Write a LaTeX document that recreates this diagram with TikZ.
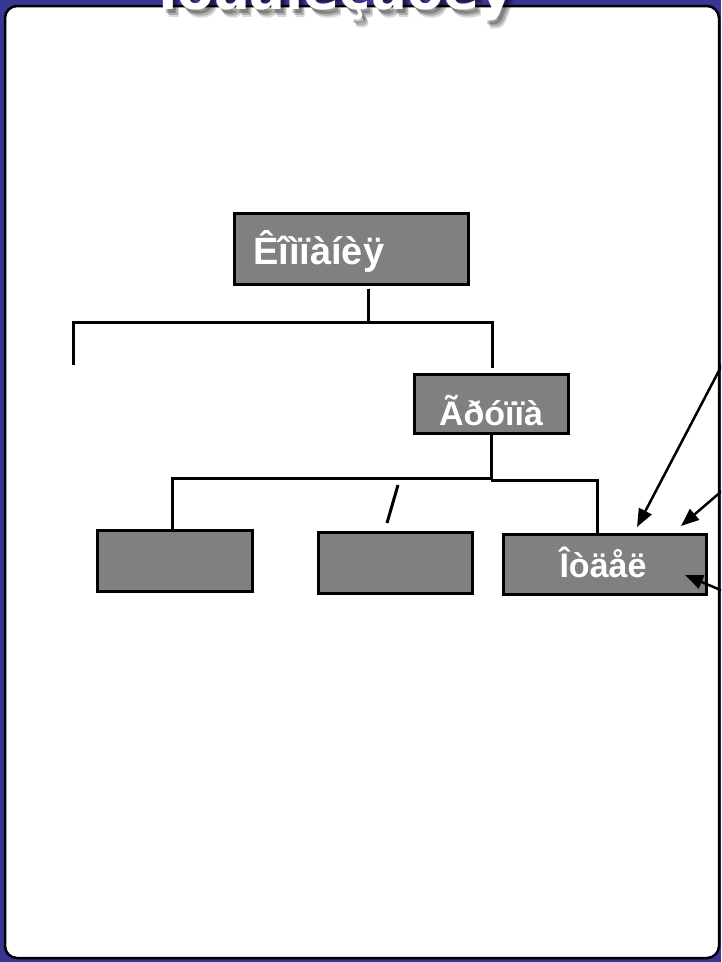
\documentclass[tikz,border=0pt]{standalone}
\usepackage{fontspec}
\setmainfont{Liberation Sans}
\newfontfamily\titlefont{DejaVu Sans}
\usetikzlibrary{arrows.meta}
\definecolor{navy}{RGB}{56,54,146}
\definecolor{boxgray}{RGB}{128,128,128}
\begin{document}
\begin{tikzpicture}[x=1pt,y=-1pt,
  unitbox/.style={draw=black,line width=3pt,fill=boxgray,inner sep=0pt},
  boxtext/.style={text=white,font=\bfseries,inner sep=0pt,anchor=base},
  link/.style={line width=3pt,draw=black},
  pointer/.style={line width=2.5pt,draw=black,-{Triangle[length=18pt,width=14pt]}},
  titletext/.style={font=\titlefont\bfseries\fontsize{53}{60}\selectfont,inner sep=0pt,anchor=base}]
\useasboundingbox (0,0) rectangle (721,962);
\clip (0,0) rectangle (721,962);
% background and panel
\fill[navy] (0,0) rectangle (721,962);
\filldraw[fill=white,draw=black,line width=2.5pt,rounded corners=12pt] (5,6) rectangle (719,958);
% title with soft shadow
\node[titletext,text=black,opacity=0.15] (titleshadowa) at (342,17) {Îðãàíèçàöèÿ};
\node[titletext,text=black,opacity=0.2] (titleshadowb) at (341,15) {Îðãàíèçàöèÿ};
\node[titletext,text=black,opacity=0.25] (titleshadowc) at (339,13) {Îðãàíèçàöèÿ};
\node[titletext,text=white] (title) at (336,9) {Îðãàíèçàöèÿ};
% boxes
\node[unitbox,minimum width=234pt,minimum height=71pt] (kompania) at (351,248.5) {};
\node[boxtext,anchor=base west,font=\bfseries\fontsize{38}{44}\selectfont] (kompanialabel) at (253,264) {Êîìïàíèÿ};
\node[unitbox,minimum width=154pt,minimum height=59pt] (gruppa) at (491,403.5) {};
\node[boxtext,font=\bfseries\fontsize{34}{40}\selectfont] (gruppalabel) at (491,425) {Ãðóïïà};
\node[unitbox,minimum width=155pt,minimum height=61pt] (leftbox) at (174.5,560.5) {};
\node[unitbox,minimum width=154pt,minimum height=61pt] (midbox) at (395,562.5) {};
\node[unitbox,minimum width=203pt,minimum height=60pt] (otdel) at (604.5,564) {};
\node[boxtext,font=\bfseries\fontsize{34}{40}\selectfont] (otdellabel) at (603,577) {Îòäåë};
% connector end points
\coordinate (ka) at (368,289);
\coordinate (kb) at (368,322);
\coordinate (la) at (73,365);
\coordinate (ra) at (492,368);
\coordinate (ga) at (491,433);
\coordinate (gb) at (491,478);
\coordinate (gc) at (491,480);
\coordinate (sa) at (398,485);
\coordinate (sb) at (387,523);
\coordinate (pa) at (723,363);
\coordinate (pb) at (723,490);
\coordinate (pc) at (723,591);
\coordinate (ta) at (637,527);
\coordinate (tb) at (681,526);
\coordinate (tc) at (685,575);
% connectors
\draw[link] (ka) -- (kb);
\draw[link] (la) |- (kb) -| (ra);
\draw[link] (ga) -- (gc);
\draw[link] (leftbox.north -| 172,0) |- (gb);
\draw[link] (gc) -| (otdel.north -| 597,0);
\draw[link] (sa) -- (sb);
% arrows
\draw[pointer] (pa) -- (ta);
\draw[pointer] (pb) -- (tb);
\draw[pointer] (pc) -- (tc);
\end{tikzpicture}
\end{document}
